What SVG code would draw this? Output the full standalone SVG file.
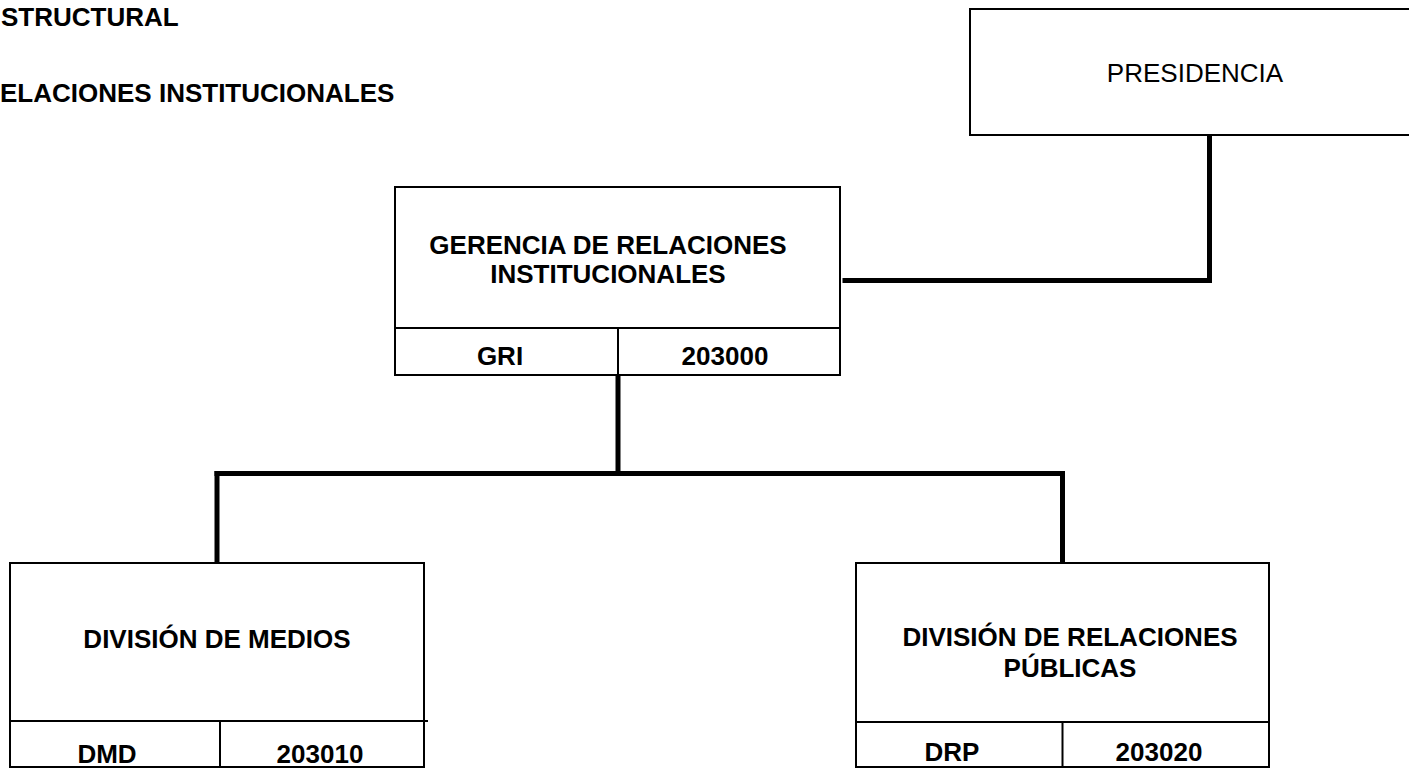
<svg xmlns="http://www.w3.org/2000/svg" width="1409" height="768" viewBox="0 0 1409 768">
<style>
.box{fill:#fff;stroke:#000;stroke-width:2}
.div{stroke:#000;stroke-width:2;fill:none}
.con{stroke:#000;stroke-width:5;fill:none;stroke-linecap:square}
.b{font-family:"Liberation Sans",Arial,sans-serif;font-weight:bold;font-size:26px;fill:#000}
.r{font-family:"Liberation Sans",Arial,sans-serif;font-size:26px;fill:#000}
.c{text-anchor:middle}
</style>
<rect width="1409" height="768" fill="#fff"/>
<g id="title">
<text class="b" x="1" y="26">STRUCTURAL</text>
<text class="b" x="0" y="102">ELACIONES INSTITUCIONALES</text>
</g>
<g id="connectors">
<path class="con" d="M1209.5 138 V280.5 H845"/>
<path class="con" d="M618 377 V473.5"/>
<path class="con" d="M217 473.5 H1062.5"/>
<path class="con" d="M217 473.5 V562"/>
<path class="con" d="M1062.5 473.5 V562"/>
</g>
<g id="presidencia">
<rect class="box" x="970" y="9" width="460" height="126"/>
<text class="r c" x="1195" y="82">PRESIDENCIA</text>
</g>
<g id="gri">
<rect class="box" x="395" y="187" width="445" height="188"/>
<path class="div" d="M395 328 H840 M618 328 V375"/>
<text class="b c" x="608" y="254">GERENCIA DE RELACIONES</text>
<text class="b c" x="608" y="283">INSTITUCIONALES</text>
<text class="b c" x="500" y="365">GRI</text>
<text class="b c" x="725" y="365">203000</text>
</g>
<g id="dmd">
<rect class="box" x="10" y="563" width="414" height="204"/>
<path class="div" d="M10 721 H428 M220 721 V767"/>
<text class="b c" x="217" y="648">DIVISIÓN DE MEDIOS</text>
<text class="b c" x="107" y="763">DMD</text>
<text class="b c" x="320" y="763">203010</text>
</g>
<g id="drp">
<rect class="box" x="856" y="563" width="413" height="204"/>
<path class="div" d="M856 722 H1269 M1062.5 722 V767"/>
<text class="b c" x="1070" y="646">DIVISIÓN DE RELACIONES</text>
<text class="b c" x="1070" y="677">PÚBLICAS</text>
<text class="b c" x="952" y="761">DRP</text>
<text class="b c" x="1159" y="761">203020</text>
</g>
</svg>
